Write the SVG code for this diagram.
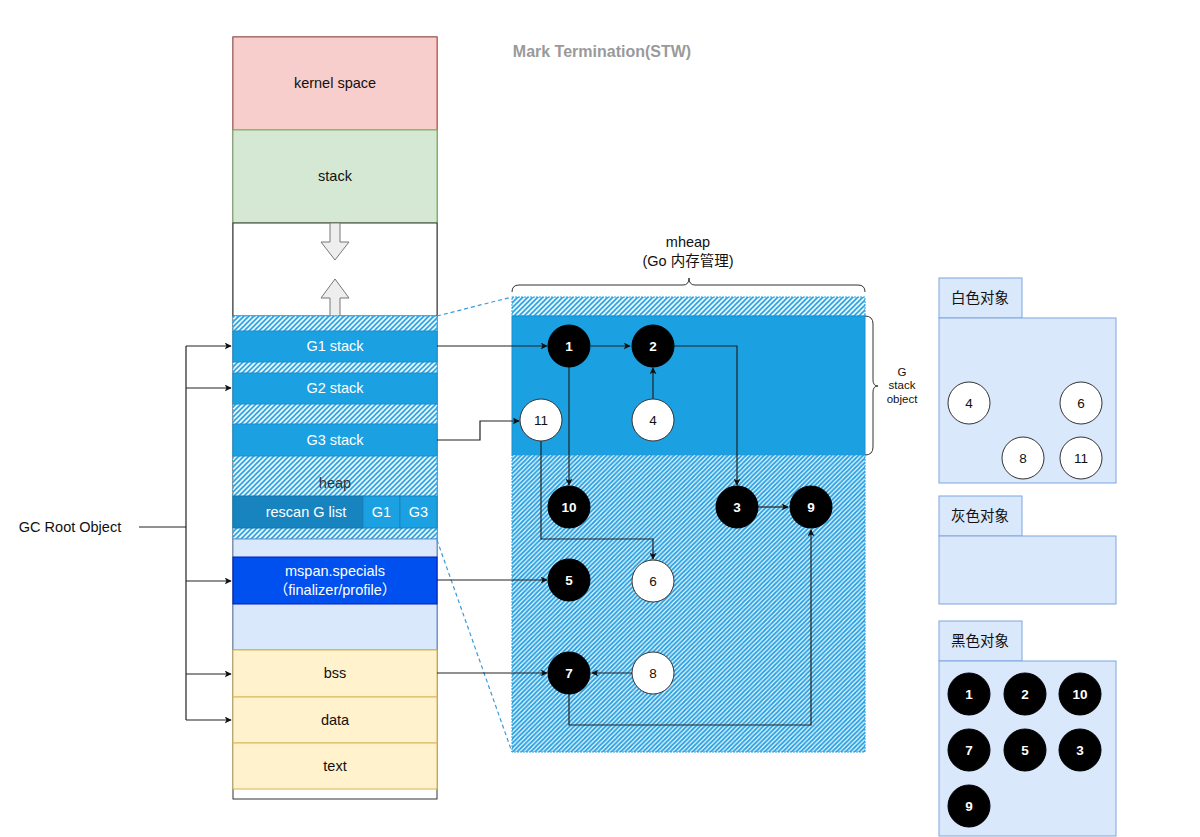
<svg xmlns="http://www.w3.org/2000/svg" width="1200" height="837" viewBox="0 0 1200 837">
<style>
text{font-family:"Liberation Sans","Noto Sans CJK SC",Arial,sans-serif;text-anchor:middle;dominant-baseline:central}
.t14{font-size:14.5px;fill:#111}
.w14{font-size:14.5px;fill:#fff}
.cjk{font-family:"Liberation Sans","Noto Sans CJK SC",sans-serif;font-size:14.5px;fill:#111}
.bn{fill:#000;stroke:#000}
.wn{fill:#fff;stroke:#333;stroke-width:1}
.bl{font-size:13.5px;font-weight:bold;fill:#fff}
.wl{font-size:13.5px;fill:#111}
.ln{fill:none;stroke:#222;stroke-width:1.2}
.dash{fill:none;stroke:#3a9ad9;stroke-width:1.2;stroke-dasharray:4 3}
.legend{fill:#dae8fc;stroke:#7ea6e0;stroke-width:1}
</style>
<defs>
<pattern id="hatch" patternUnits="userSpaceOnUse" width="5" height="5">
<rect width="5" height="5" fill="#eaf5fc"/>
<path d="M-1,1 l2,-2 M0,5 l5,-5 M4,6 l2,-2" stroke="#2aa3e2" stroke-width="1.6"/>
</pattern>
<pattern id="hatch2" patternUnits="userSpaceOnUse" width="4.5" height="4.5">
<rect width="4.5" height="4.5" fill="#eef7fd"/>
<path d="M-1,1 l2,-2 M0,4.5 l4.5,-4.5 M3.5,5.5 l2,-2" stroke="#22a0e2" stroke-width="1.8"/>
</pattern>
<marker id="arr" viewBox="0 0 10 10" refX="9" refY="5" markerWidth="7" markerHeight="7" orient="auto" markerUnits="userSpaceOnUse">
<path d="M0,0 L10,5 L0,10 L2.5,5 z" fill="#111"/>
</marker>
</defs>
<rect width="1200" height="837" fill="#fff"/>

<g id="title"><text x="602" y="51" style="font-size:16px;font-weight:bold;fill:#9a9a9a">Mark Termination(STW)</text></g>

<!-- memory column -->
<g id="column">
<rect x="233" y="37" width="204" height="762" fill="#fff" stroke="#333" stroke-width="1"/>
</g>
<g id="kernel"><rect x="233" y="37" width="204" height="93" fill="#f8cecc" stroke="#b85450"/><text class="t14" x="335" y="83">kernel space</text></g>
<g id="stack"><rect x="233" y="130" width="204" height="93" fill="#d5e8d4" stroke="#82b366"/><text class="t14" x="335" y="176">stack</text></g>
<g id="gap"><rect x="233" y="223" width="204" height="93" fill="#fff" stroke="#333"/>
<polygon points="330,223 340,223 340,242 349,242 335,260 321,242 330,242" fill="#eee" stroke="#777"/>
<polygon points="335,279 349,298 340,298 340,316 330,316 330,298 321,298" fill="#eee" stroke="#777"/>
</g>
<g id="heapArea"><rect x="233" y="316" width="204" height="223" fill="url(#hatch)" stroke="#2aa3e2" stroke-dasharray="2 1"/>
<text x="335" y="483" style="font-size:14.5px;fill:#333">heap</text></g>
<g id="g1stack"><rect x="233" y="331" width="204" height="31" fill="#1ba1e2" stroke="#1890d0"/><text class="w14" x="335" y="346">G1 stack</text></g>
<g id="g2stack"><rect x="233" y="373" width="204" height="31" fill="#1ba1e2" stroke="#1890d0"/><text class="w14" x="335" y="388">G2 stack</text></g>
<g id="g3stack"><rect x="233" y="424" width="204" height="32" fill="#1ba1e2" stroke="#1890d0"/><text class="w14" x="335" y="440">G3 stack</text></g>
<g id="rescan"><rect x="233" y="496" width="130" height="32" fill="#1784bf" stroke="#1277ad"/><text class="w14" x="306" y="512">rescan G list</text></g>
<g id="rg1"><rect x="363" y="496" width="37" height="32" fill="#1ba1e2" stroke="#1784bf"/><text class="w14" x="381.5" y="512">G1</text></g>
<g id="rg3"><rect x="400" y="496" width="37" height="32" fill="#1ba1e2" stroke="#1784bf"/><text class="w14" x="418.5" y="512">G3</text></g>
<g id="spanArea"><rect x="233" y="539" width="204" height="111" fill="#dae8fc" stroke="#6c8ebf"/></g>
<g id="mspan"><rect x="233" y="557" width="204" height="47" fill="#0050ef" stroke="#001dbc"/><text class="w14" x="335" y="571">mspan.specials</text><text class="w14" x="335" y="590">（finalizer/profile）</text></g>
<g id="bss"><rect x="233" y="650" width="204" height="47" fill="#fff2cc" stroke="#d6b656"/><text class="t14" x="335" y="673">bss</text></g>
<g id="data"><rect x="233" y="697" width="204" height="46" fill="#fff2cc" stroke="#d6b656"/><text class="t14" x="335" y="720">data</text></g>
<g id="text"><rect x="233" y="743" width="204" height="46" fill="#fff2cc" stroke="#d6b656"/><text class="t14" x="335" y="766">text</text></g>

<g id="gcroot"><text class="t14" x="70" y="527">GC Root Object</text></g>

<!-- mheap -->
<g id="mheapLabel"><text class="t14" x="688" y="242">mheap</text><text class="cjk" x="688" y="261">(Go 内存管理)</text>
<path d="M512,292 Q512,285 519,285 L683,285 Q689,285 689,278 Q689,285 695,285 L858,285 Q865,285 865,292" fill="none" stroke="#333" stroke-width="1"/></g>
<g id="mheapTop"><rect x="512" y="297" width="353" height="19" fill="url(#hatch)" stroke="#2aa3e2" stroke-dasharray="2 1"/></g>
<g id="gstackArea"><rect x="512" y="316" width="353" height="139" fill="#1ba1e2" stroke="#1890d0"/></g>
<g id="mheapLow"><rect x="512" y="455" width="353" height="297" fill="url(#hatch2)" stroke="#2aa3e2" stroke-dasharray="2 1"/></g>
<g id="gstackBrace"><path d="M865,316 Q873,316 873,324 L873,380 Q873,386 878,386 Q873,386 873,392 L873,447 Q873,455 865,455" fill="none" stroke="#333" stroke-width="1"/>
<text x="902" y="372" style="font-size:11.5px;fill:#111">G</text><text x="902" y="385" style="font-size:11.5px;fill:#111">stack</text><text x="902" y="399" style="font-size:11.5px;fill:#111">object</text></g>

<!-- connectors -->
<g id="connectors">
<line class="ln" x1="139" y1="527" x2="186" y2="527"/>
<path class="ln" d="M186,346 L186,720"/>
<path class="ln" d="M186,346 L231,346" marker-end="url(#arr)"/>
<path class="ln" d="M186,388 L231,388" marker-end="url(#arr)"/>
<path class="ln" d="M186,581 L231,581" marker-end="url(#arr)"/>
<path class="ln" d="M186,674 L231,674" marker-end="url(#arr)"/>
<path class="ln" d="M186,720 L231,720" marker-end="url(#arr)"/>
<path class="dash" d="M437,316 L512,297"/>
<path class="dash" d="M437,540 L512,752"/>
<path class="ln" d="M437,346 L547,346" marker-end="url(#arr)"/>
<path class="ln" d="M437,440 L480,440 L480,421 L519,421" marker-end="url(#arr)"/>
<path class="ln" d="M591,346 L630,346" marker-end="url(#arr)"/>
<path class="ln" d="M674,346 L737,346 L737,485" marker-end="url(#arr)"/>
<path class="ln" d="M653,399 L653,368" marker-end="url(#arr)"/>
<path class="ln" d="M569,367 L569,485" marker-end="url(#arr)"/>
<path class="ln" d="M541,441 L541,539 L653,539 L653,559" marker-end="url(#arr)"/>
<path class="ln" d="M758,507 L788,507" marker-end="url(#arr)"/>
<path class="ln" d="M569,694 L569,725 L811,725 L811,530" marker-end="url(#arr)"/>
<path class="ln" d="M632,673 L592,673" marker-end="url(#arr)"/>
<path class="ln" d="M437,580 L547,580" marker-end="url(#arr)"/>
<path class="ln" d="M437,673 L547,673" marker-end="url(#arr)"/>
</g>

<!-- heap nodes -->
<g id="n1"><circle class="bn" cx="569" cy="346" r="21"/><text class="bl" x="569" y="346">1</text></g>
<g id="n2"><circle class="bn" cx="653" cy="346" r="21"/><text class="bl" x="653" y="346">2</text></g>
<g id="n11"><circle class="wn" cx="541" cy="420" r="21"/><text class="wl" x="541" y="420">11</text></g>
<g id="n4"><circle class="wn" cx="653" cy="420" r="21"/><text class="wl" x="653" y="420">4</text></g>
<g id="n10"><circle class="bn" cx="569" cy="507" r="21"/><text class="bl" x="569" y="507">10</text></g>
<g id="n3"><circle class="bn" cx="737" cy="507" r="21"/><text class="bl" x="737" y="507">3</text></g>
<g id="n9"><circle class="bn" cx="811" cy="507" r="21"/><text class="bl" x="811" y="507">9</text></g>
<g id="n5"><circle class="bn" cx="569" cy="580" r="21"/><text class="bl" x="569" y="580">5</text></g>
<g id="n6"><circle class="wn" cx="653" cy="581" r="21"/><text class="wl" x="653" y="581">6</text></g>
<g id="n7"><circle class="bn" cx="569" cy="673" r="21"/><text class="bl" x="569" y="673">7</text></g>
<g id="n8"><circle class="wn" cx="653" cy="673" r="21"/><text class="wl" x="653" y="673">8</text></g>

<!-- legend -->
<g id="legendWhite">
<rect class="legend" x="939" y="278" width="83" height="40"/><rect class="legend" x="939" y="318" width="177" height="165"/>
<text class="cjk" x="980" y="298">白色对象</text>
<circle class="wn" cx="969" cy="403" r="21"/><text class="wl" x="969" y="403">4</text>
<circle class="wn" cx="1081" cy="403" r="21"/><text class="wl" x="1081" y="403">6</text>
<circle class="wn" cx="1023" cy="458" r="21"/><text class="wl" x="1023" y="458">8</text>
<circle class="wn" cx="1081" cy="458" r="21"/><text class="wl" x="1081" y="458">11</text>
</g>
<g id="legendGray">
<rect class="legend" x="939" y="496" width="83" height="40"/><rect class="legend" x="939" y="536" width="177" height="68"/>
<text class="cjk" x="980" y="516">灰色对象</text>
</g>
<g id="legendBlack">
<rect class="legend" x="939" y="621" width="83" height="40"/><rect class="legend" x="939" y="661" width="177" height="175"/>
<text class="cjk" x="980" y="641">黑色对象</text>
<circle class="bn" cx="969" cy="694" r="21"/><text class="bl" x="969" y="694">1</text>
<circle class="bn" cx="1025" cy="694" r="21"/><text class="bl" x="1025" y="694">2</text>
<circle class="bn" cx="1080" cy="694" r="21"/><text class="bl" x="1080" y="694">10</text>
<circle class="bn" cx="969" cy="750" r="21"/><text class="bl" x="969" y="750">7</text>
<circle class="bn" cx="1025" cy="750" r="21"/><text class="bl" x="1025" y="750">5</text>
<circle class="bn" cx="1080" cy="750" r="21"/><text class="bl" x="1080" y="750">3</text>
<circle class="bn" cx="969" cy="806" r="21"/><text class="bl" x="969" y="806">9</text>
</g>
</svg>
